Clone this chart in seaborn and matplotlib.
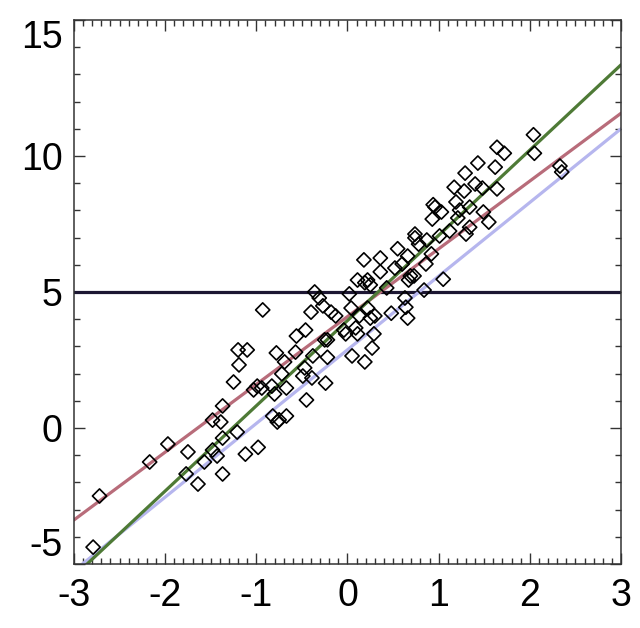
import numpy as np
import pandas as pd
import seaborn as sns
import matplotlib.pyplot as plt
from matplotlib.ticker import MultipleLocator

# scatter points
px = [-2.79, -2.72, -2.17, -1.97, -1.75, -1.77, -1.64, -1.57, -1.48, -1.48,
      -1.43, -1.37, -1.39, -1.37, -1.37, -1.21, -1.25, -1.19, -1.20, -1.10,
      -1.12, -1.03, -0.99, -0.98, -0.93, -0.94, -0.83, -0.80, -0.78, -0.82,
      -0.77, -0.75, -0.67, -0.72, -0.69, -0.67, -0.57, -0.56, -0.49, -0.47,
      -0.46, -0.45, -0.40, -0.39, -0.38, -0.36, -0.31, -0.27, -0.25, -0.22,
      -0.22, -0.24, -0.18, -0.13, -0.04, -0.02, 0.02, 0.04, 0.05, 0.09,
      0.11, 0.11, 0.13, 0.18, 0.19, 0.22, 0.25, 0.19, 0.22, 0.25,
      0.27, 0.29, 0.30, 0.36, 0.36, 0.43, 0.48, 0.52, 0.55, 0.60,
      0.63, 0.64, 0.66, 0.66, 0.67, 0.69, 0.73, 0.74, 0.74, 0.78,
      0.84, 0.86, 0.87, 0.92, 0.93, 0.94, 0.96, 1.01, 1.03, 1.05,
      1.12, 1.17, 1.19, 1.21, 1.23, 1.28, 1.29, 1.30, 1.34, 1.34,
      1.40, 1.43, 1.48, 1.49, 1.55, 1.62, 1.64, 1.64, 1.72, 2.04,
      2.05, 2.33, 2.35]
py = [-4.38, -2.50, -1.25, -0.59, -0.88, -1.69, -2.06, -1.25, 0.29, -0.81,
      -1.03, 0.81, 0.22, -0.37, -1.69, -0.15, 1.69, 2.32, 2.87, 2.87,
      -0.96, 1.40, 1.54, -0.71, 4.34, 1.47, 1.54, 1.25, 2.76, 0.44,
      0.22, 0.30, 0.44, 1.99, 2.43, 1.47, 2.79, 3.38, 1.91, 2.21,
      3.60, 1.03, 4.26, 1.84, 2.65, 5.00, 4.78, 4.49, 3.24, 3.24,
      2.60, 1.65, 4.26, 4.12, 3.60, 3.46, 4.93, 4.41, 2.65, 3.68,
      3.46, 5.44, 4.12, 6.18, 5.34, 5.44, 5.26, 2.43, 4.41, 4.04,
      2.94, 3.46, 4.12, 5.74, 6.25, 5.15, 4.22, 5.88, 6.59, 6.03,
      4.78, 4.44, 4.04, 6.32, 5.44, 5.59, 5.59, 7.13, 6.99, 6.76,
      5.07, 6.03, 6.91, 6.40, 7.68, 8.21, 8.12, 7.06, 7.94, 5.47,
      7.24, 8.85, 8.31, 7.72, 8.01, 8.71, 9.37, 7.13, 7.38, 8.12,
      8.97, 9.74, 8.82, 7.94, 7.57, 9.59, 8.79, 10.32, 10.10, 10.78,
      10.10, 9.63, 9.41]

# fitted lines (end points at x = -3 and x = 3)
line_x = [-3, 3]
green_y = [-5.45, 13.35]
red_y = [-3.38, 11.57]
blue_y = [-5.25, 11.0]
hline_y = [5, 5]

pts = pd.DataFrame({'x': px, 'y': py})

sns.set_style('ticks')
plt.rcParams['font.family'] = ['Liberation Sans', 'DejaVu Sans']

fig = plt.figure(figsize=(6.4, 6.28), dpi=100)
ax = fig.add_axes([0.1156, 0.1019, 0.9703 - 0.1156, 0.9682 - 0.1019])

sns.lineplot(x=line_x, y=hline_y, color='#1c1632', lw=2.3, ax=ax)
sns.lineplot(x=line_x, y=blue_y, color='#b6b6ee', lw=2.3, ax=ax)
sns.lineplot(x=line_x, y=red_y, color='#b86c7a', lw=2.3, ax=ax)
sns.lineplot(x=line_x, y=green_y, color='#4e7a36', lw=2.3, ax=ax)
sns.scatterplot(data=pts, x='x', y='y', marker='D', s=52,
                facecolor='none', edgecolor='black', linewidth=1.2, ax=ax,
                zorder=5)

ax.set_xlim(-3, 3)
ax.set_ylim(-5, 15)
ax.set_xlabel('')
ax.set_ylabel('')
ax.xaxis.set_major_locator(MultipleLocator(1))
ax.xaxis.set_minor_locator(MultipleLocator(0.1))
ax.yaxis.set_major_locator(MultipleLocator(5))
ax.yaxis.set_minor_locator(MultipleLocator(1))
ax.tick_params(which='both', direction='in', top=True, right=True,
               color='#333333', width=1, labelcolor='black')
ax.tick_params(which='major', length=8, labelsize=27, pad=10)
ax.tick_params(which='minor', length=4)
ax.tick_params(axis='y', which='major', pad=8)
for s in ax.spines.values():
    s.set_color('#333333')
    s.set_linewidth(1.1)

ax.set_xticks([-3, -2, -1, 0, 1, 2, 3])
ax.set_xticklabels(['-3', '-2', '-1', '0', '1', '2', '3'])
ax.set_yticks([-5, 0, 5, 10, 15])
ax.set_yticklabels(['-5', '0', '5', '10', '15'])
ylabs = ax.get_yticklabels()
ylabs[0].set_va('bottom')
ylabs[-1].set_va('top')

fig.savefig('out.png', dpi=100)
